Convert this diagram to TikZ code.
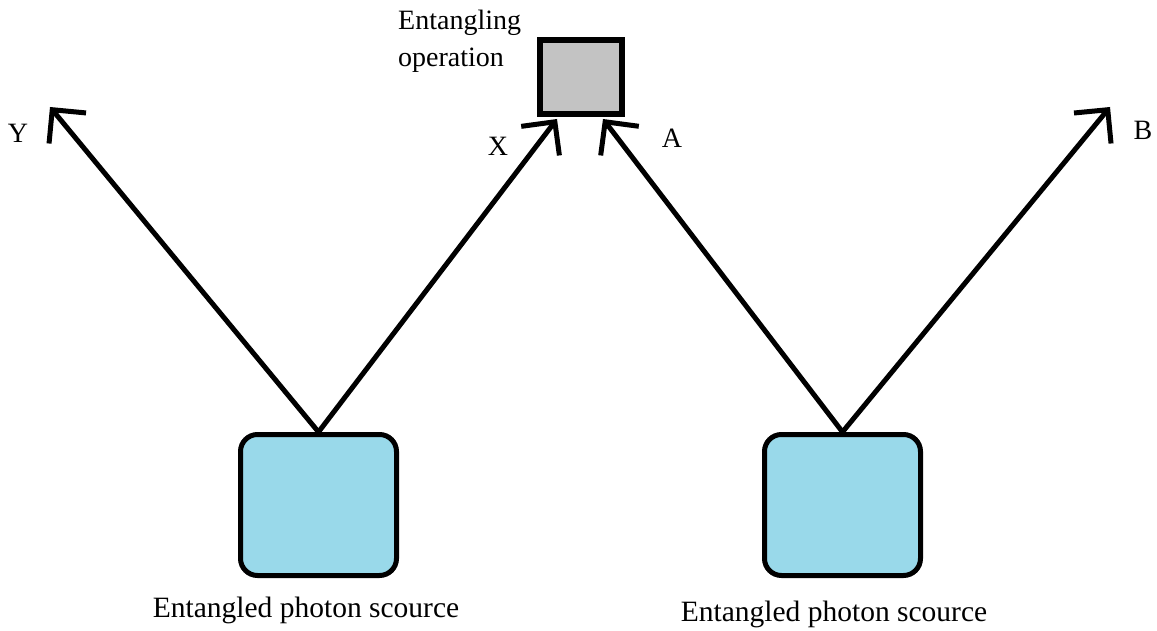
\documentclass[tikz,border=0pt]{standalone}
\usepackage{fontspec}
\setmainfont{Liberation Serif}
\usetikzlibrary{arrows.meta}
\begin{document}
\begin{tikzpicture}[x=1pt,y=-1pt,
  source/.style={draw=black, line width=5pt, fill=srcblue, rounded corners=17pt,
    minimum width=156pt, minimum height=141pt, inner sep=0pt},
  gate/.style={draw=black, line width=6pt, fill=gategray,
    minimum width=82pt, minimum height=74pt, inner sep=0pt},
  photon/.style={line width=5pt, line cap=round,
    -{Straight Barb[length=24pt, width=48pt, line width=5pt]}},
  lbl/.style={font=\fontsize{28}{34}\selectfont, inner sep=0pt},
  caption/.style={font=\fontsize{29.5}{35}\selectfont, inner sep=0pt}]
\definecolor{srcblue}{RGB}{153,217,234}
\definecolor{gategray}{RGB}{195,195,195}
\useasboundingbox (0,0) rectangle (1157,631);

% sources and entangling gate
\node[source] (s1) at (318.5,505) {};
\node[source] (s2) at (842.5,505) {};
\node[gate] (op) at (581,77) {};

% arrow tips
\coordinate (tY) at (50,107);
\coordinate (tX) at (557,119);
\coordinate (tA) at (603,119);
\coordinate (tB) at (1110,107);

% photon paths
\draw[photon] (s1.north) -- (tY);
\draw[photon] (s1.north) -- (tX);
\draw[photon] (s2.north) -- (tA);
\draw[photon] (s2.north) -- (tB);

% labels
\node[lbl] (lY) at (18,133) {Y};
\node[lbl] (lX) at (498,146) {X};
\node[lbl] (lA) at (672,138) {A};
\node[lbl] (lB) at (1143,130) {B};
\node[lbl, anchor=north west, align=left, font=\fontsize{28}{37}\selectfont] (lop) at (398,10) {Entangling\\operation};
\node[caption] (ls1) at (306,610) {Entangled photon scource};
\node[caption] (ls2) at (834,614) {Entangled photon scource};
\end{tikzpicture}
\end{document}
